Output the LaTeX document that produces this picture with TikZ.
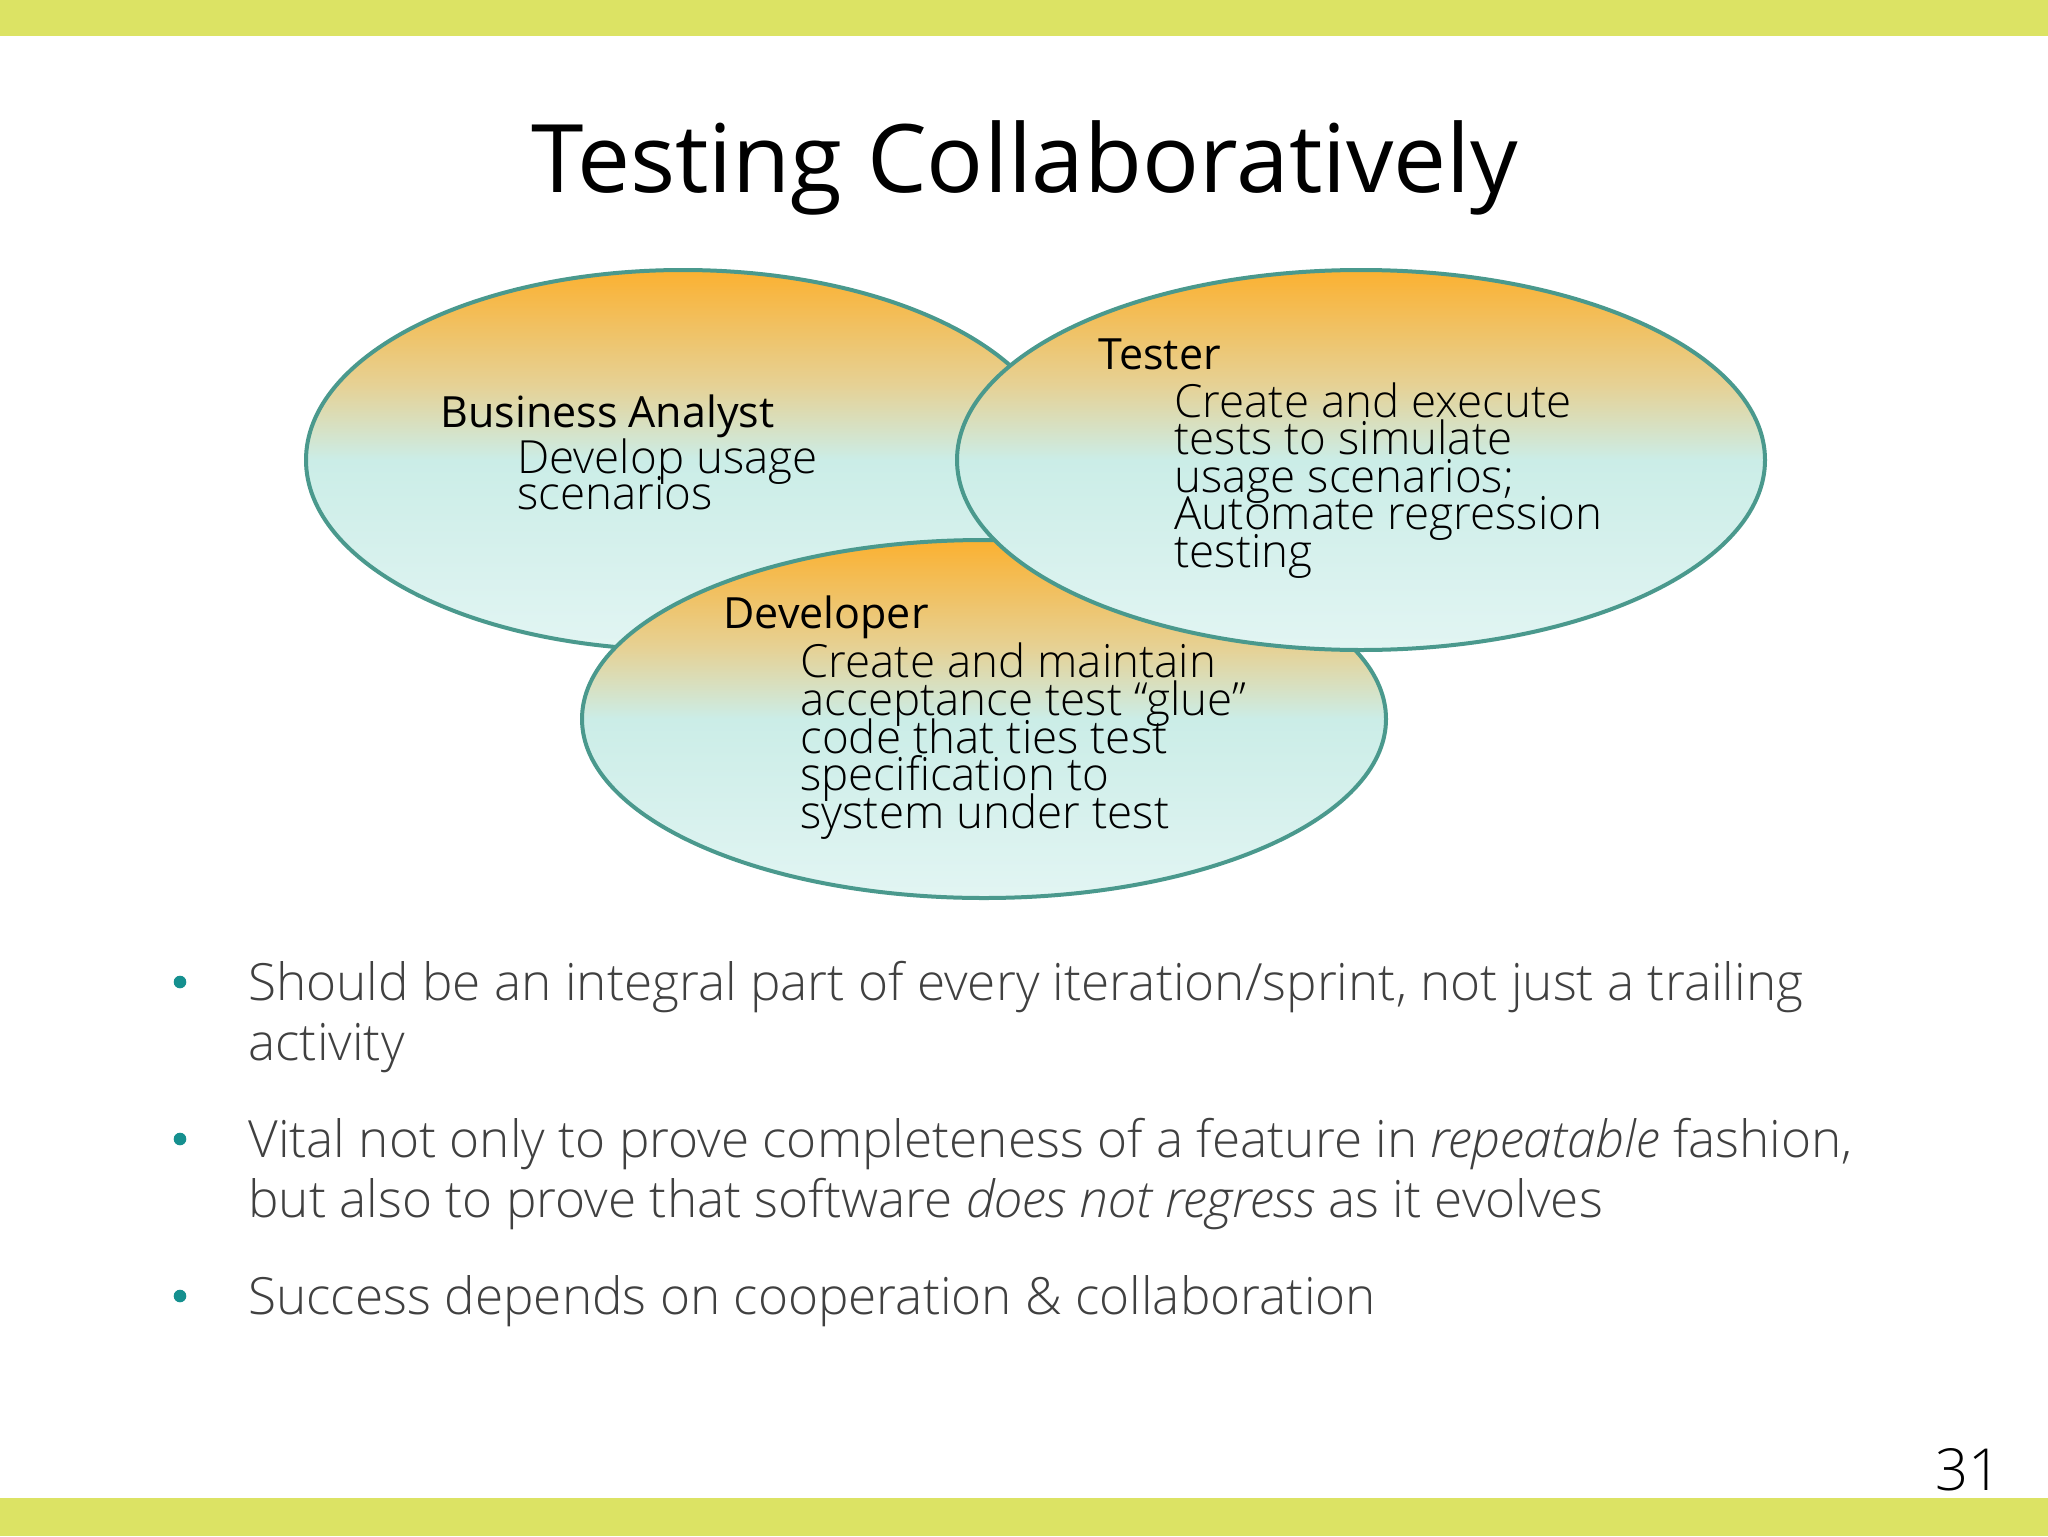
\documentclass[tikz,border=0pt]{standalone}
\usepackage{fontspec}
\setmainfont{Open Sans}
\IfFontExistsTF{Open Sans Light}{\newfontfamily\lightfont{Open Sans Light}}{\newfontfamily\lightfont{Open Sans}}
\usetikzlibrary{shapes.geometric}
\definecolor{barcol}{HTML}{DCE364}
\definecolor{vorange}{HTML}{FBB131}
\definecolor{vtan}{HTML}{E6D194}
\definecolor{vcyan}{HTML}{CBEDE7}
\definecolor{vlight}{HTML}{E2F5F3}
\definecolor{vline}{HTML}{4A998D}
\definecolor{bultext}{HTML}{404040}
\definecolor{buldot}{HTML}{15908F}
\pgfdeclareverticalshading{vennshade}{100bp}{color(0bp)=(vlight); color(25bp)=(vlight); color(50bp)=(vcyan); color(60bp)=(vtan); color(75bp)=(vorange); color(100bp)=(vorange)}
\begin{document}
\begin{tikzpicture}[x=0.5pt,y=-0.5pt,
  venn/.style={ellipse, draw=vline, line width=2pt, shading=vennshade, inner sep=0pt},
  head/.style={anchor=base west, inner sep=0pt, font=\fontsize{21.5pt}{27pt}\selectfont},
  desc/.style={anchor=base west, inner sep=0pt, font=\lightfont\fontsize{22.85pt}{27pt}\selectfont},
  bul/.style={anchor=base west, inner sep=0pt, text=bultext, font=\lightfont\fontsize{25.65pt}{30pt}\selectfont},
  bdot/.style={circle, fill=buldot, inner sep=0pt, minimum size=6.3pt}]
\useasboundingbox (0,0) rectangle (2048,1536);
\fill[white] (0,0) rectangle (2048,1536);
\fill[barcol] (0,0) rectangle (2048,36);
\fill[barcol] (0,1498) rectangle (2048,1536);

\node[anchor=base, inner sep=0pt, font=\fontsize{47.3pt}{56pt}\selectfont] (title) at (1025,192) {Testing Collaboratively};

\node[venn, minimum width=377pt, minimum height=190pt] (ba) at (683,460) {};
\node[venn, minimum width=402pt, minimum height=179pt] (dev) at (984,719) {};
\node[venn, minimum width=404pt, minimum height=190pt] (tester) at (1361,460) {};

\node[head] (bah) at (440,427) {Business Analyst};
\node[desc] (bad1) at (517,473) {Develop usage};
\node[desc] (bad2) at (517,509) {scenarios};

\node[head] (teh) at (1098,369) {Tester};
\node[desc] (ted1) at (1174,417) {Create and execute};
\node[desc] (ted2) at (1174,454) {tests to simulate};
\node[desc] (ted3) at (1174,492) {usage scenarios;};
\node[desc] (ted4) at (1174,529) {Automate regression};
\node[desc] (ted5) at (1174,567) {testing};

\node[head] (deh) at (723,628) {Developer};
\node[desc] (ded1) at (800,677) {Create and maintain};
\node[desc] (ded2) at (800,715) {acceptance test “glue”};
\node[desc] (ded3) at (800,753) {code that ties test};
\node[desc] (ded4) at (800,790) {specification to};
\node[desc] (ded5) at (800,828) {system under test};

\node[bdot] (d1) at (180,982) {};
\node[bdot] (d2) at (180,1139) {};
\node[bdot] (d3) at (180,1296) {};
\node[bul] (b1a) at (248,1000) {Should be an integral part of every iteration/sprint, not just a trailing};
\node[bul] (b1b) at (248,1060) {activity};
\node[bul] (b2a) at (248,1157) {Vital not only to prove completeness of a feature in \textit{repeatable} fashion,};
\node[bul] (b2b) at (248,1217) {but also to prove that software \textit{does not regress} as it evolves};
\node[bul] (b3a) at (248,1314) {Success depends on cooperation \& collaboration};

\node[anchor=base east, inner sep=0pt, font=\lightfont\fontsize{29pt}{35pt}\selectfont] (pg) at (2002,1490) {31};
\end{tikzpicture}
\end{document}
